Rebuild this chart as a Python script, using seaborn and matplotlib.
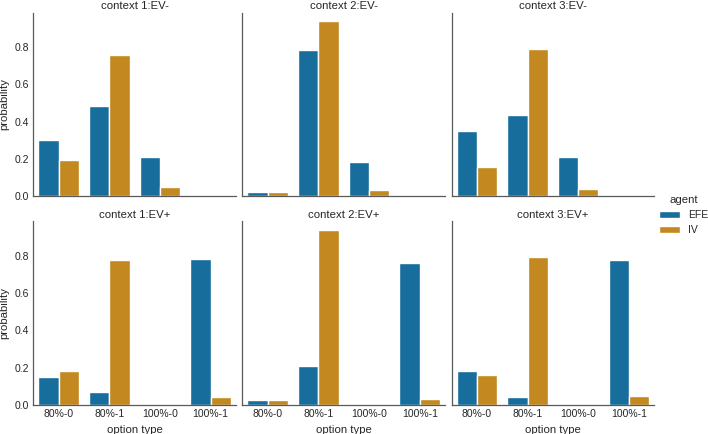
import matplotlib
matplotlib.use("Agg")
import matplotlib.pyplot as plt
import numpy as np
import pandas as pd
import seaborn as sns

## values
options = ["80%-0", "80%-1", "100%-0", "100%-1"]
contexts = ["context 1", "context 2", "context 3"]
ev_levels = ["EV-", "EV+"]
agents = ["EFE", "IV"]

# probability per option type, one list per context
efe_ev_minus = [
    [0.30, 0.482, 0.209, 0.0],
    [0.023, 0.786, 0.184, 0.0],
    [0.348, 0.437, 0.209, 0.0],
]
iv_ev_minus = [
    [0.193, 0.755, 0.047, 0.0],
    [0.023, 0.937, 0.032, 0.0],
    [0.157, 0.791, 0.041, 0.0],
]
efe_ev_plus = [
    [0.150, 0.070, 0.0, 0.782],
    [0.027, 0.211, 0.0, 0.761],
    [0.181, 0.043, 0.0, 0.775],
]
iv_ev_plus = [
    [0.181, 0.775, 0.0, 0.045],
    [0.027, 0.936, 0.0, 0.030],
    [0.159, 0.793, 0.0, 0.048],
]

table = {
    ("EV-", "EFE"): efe_ev_minus,
    ("EV-", "IV"): iv_ev_minus,
    ("EV+", "EFE"): efe_ev_plus,
    ("EV+", "IV"): iv_ev_plus,
}

rows = []
for (ev, agent), per_context in table.items():
    for ctx, vals in zip(contexts, per_context):
        for opt, v in zip(options, vals):
            rows.append({"EV": ev, "context": ctx, "agent": agent,
                         "option type": opt, "probability": v})
df = pd.DataFrame(rows)

sns.set_theme(style="white", context="notebook", font_scale=0.68)
plt.rcParams["font.family"] = ["Liberation Sans", "DejaVu Sans"]
plt.rcParams["axes.edgecolor"] = "0.35"
plt.rcParams["axes.linewidth"] = 0.9
plt.rcParams["axes.titlepad"] = 2.5

g = sns.catplot(
    data=df, kind="bar",
    x="option type", y="probability", hue="agent",
    col="context", row="EV",
    order=options, hue_order=agents,
    col_order=contexts, row_order=ev_levels,
    palette="colorblind", errorbar=None,
    height=2.2, aspect=1.1,
)
g.set_titles("{col_name}:{row_name}")
g.figure.set_size_inches(7.08, 4.34)
g.figure.subplots_adjust(left=0.047, right=0.924, top=0.971, bottom=0.067,
                         wspace=0.032, hspace=0.136)
sns.move_legend(g, "center left", bbox_to_anchor=(0.918, 0.505))

for ax in g.axes.flat:
    ax.tick_params(axis="both", length=0, pad=3)

g.figure.savefig("out.png", dpi=100)
